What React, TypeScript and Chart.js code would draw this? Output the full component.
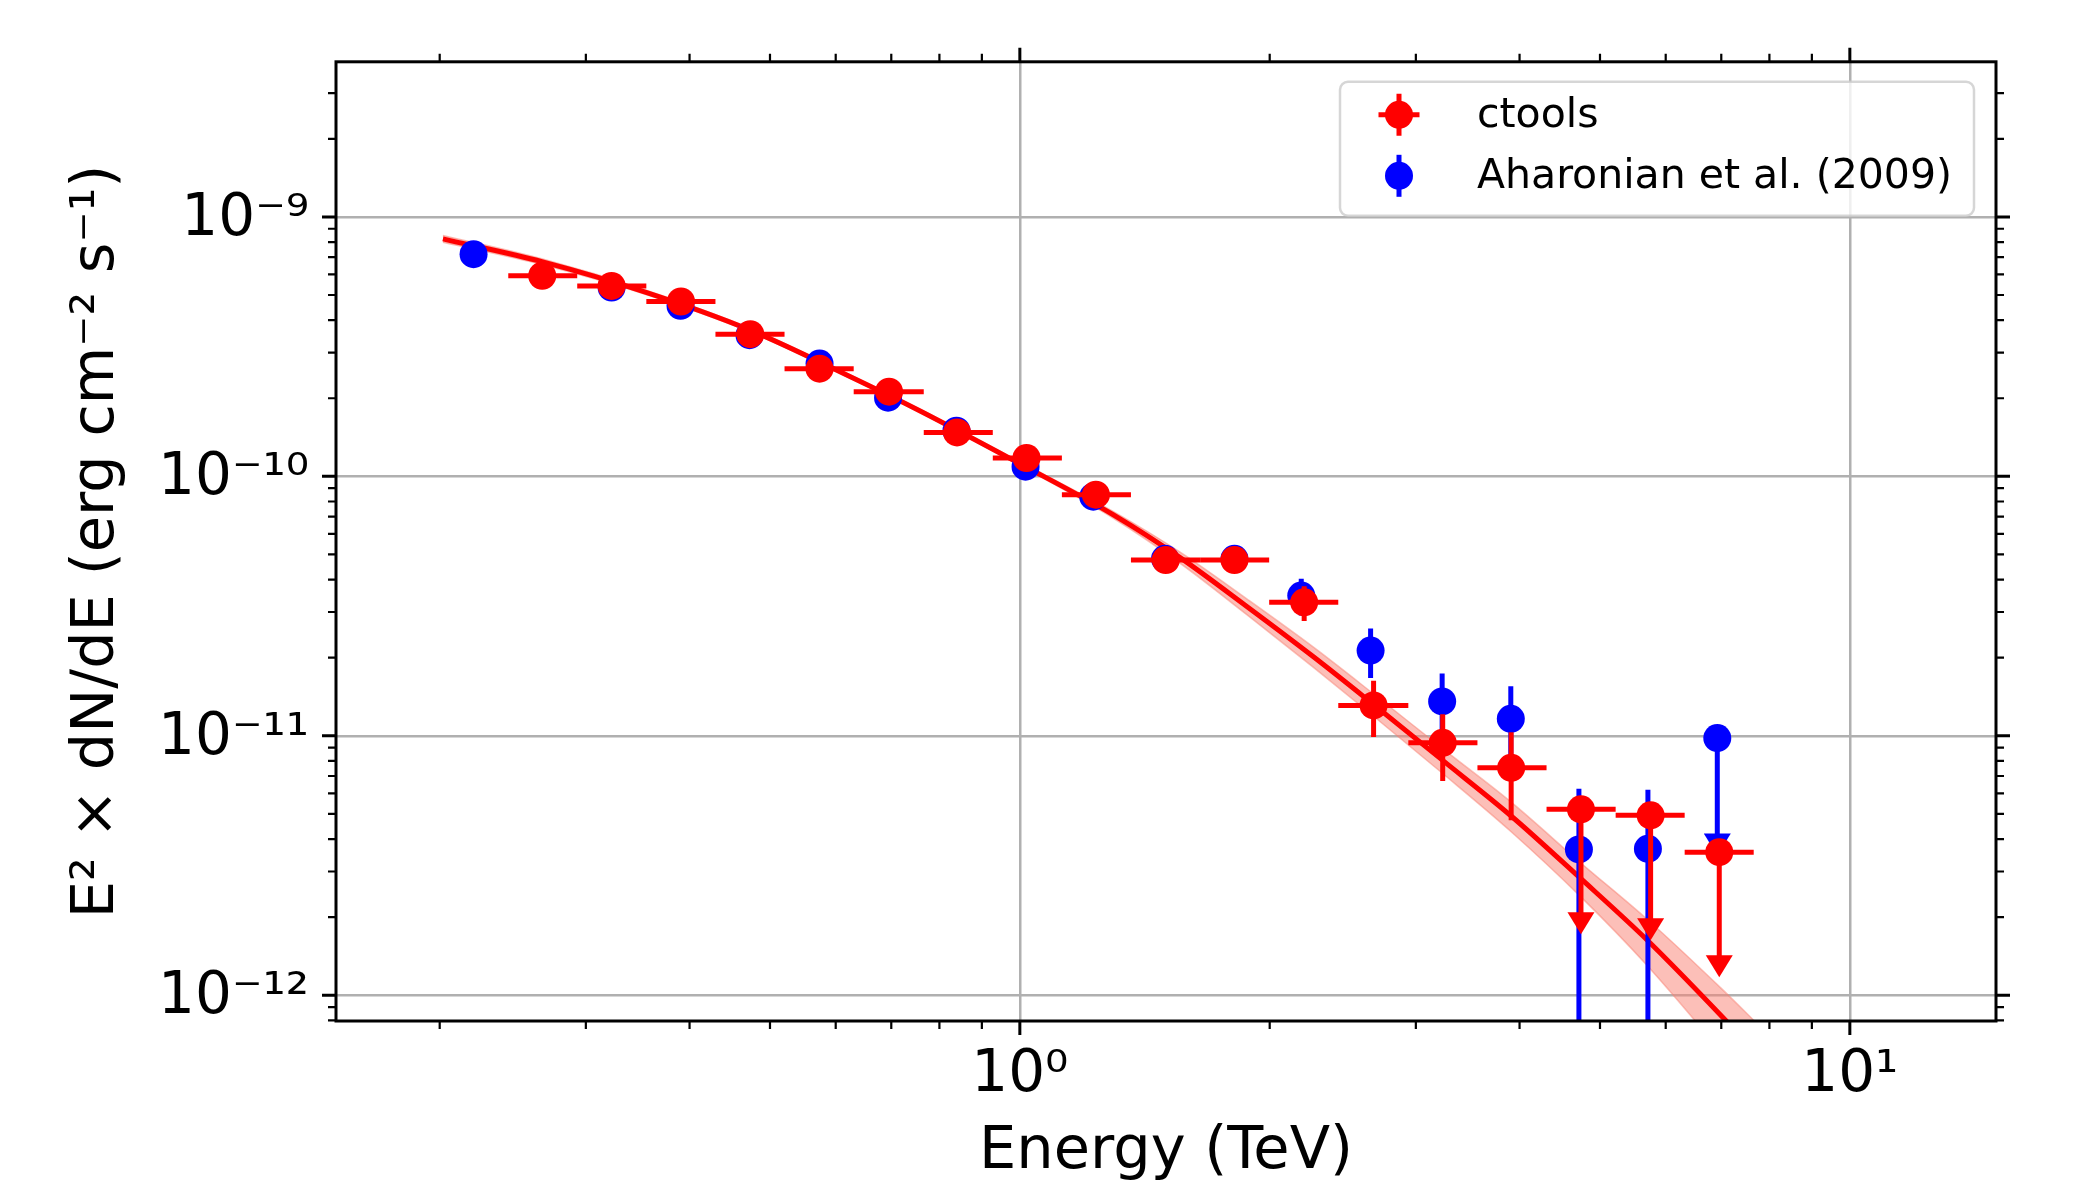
import React, { useEffect, useRef } from 'react';
import { Chart, registerables } from 'chart.js';

Chart.register(...registerables);

const FONT = '"DejaVu Sans", "Liberation Sans", sans-serif';

// ---------------- data ----------------
// ctools spectral points (TeV, erg cm^-2 s^-1)
const ctoolsEnergy = [0.2658, 0.3222, 0.3906, 0.4734, 0.5737, 0.6957, 0.8401, 1.0187, 1.2349, 1.499, 1.8137, 2.2007, 2.668, 3.232, 3.908, 4.743, 5.754, 6.961];
const ctoolsEnergyLow = [0.2419, 0.2929, 0.3548, 0.4298, 0.5206, 0.6307, 0.766, 0.9277, 1.1237, 1.361, 1.649, 1.997, 2.419, 2.938, 3.559, 4.311, 5.222, 6.324];
const ctoolsEnergyHigh = [0.2929, 0.3548, 0.4298, 0.5206, 0.6307, 0.766, 0.9277, 1.1237, 1.361, 1.649, 1.997, 2.419, 2.938, 3.559, 4.311, 5.222, 6.324, 7.659];
const ctoolsFlux = [5.93e-10, 5.42e-10, 4.72e-10, 3.53e-10, 2.6e-10, 2.12e-10, 1.477e-10, 1.177e-10, 8.5e-11, 4.76e-11, 4.76e-11, 3.27e-11, 1.31e-11, 9.4e-12, 7.53e-12, 5.21e-12, 4.94e-12, 3.56e-12];
const ctoolsFluxErr = [1.5e-11, 1.3e-11, 1.1e-11, 9e-12, 7e-12, 6e-12, 4.5e-12, 4e-12, 3e-12, 2e-12, 2.2e-12, 5e-12, 3.2e-12, 2.7e-12, 2.8e-12, 0, 0, 0];
const ctoolsIsUpperLimit = [false, false, false, false, false, false, false, false, false, false, false, false, false, false, false, true, true, true];

// Aharonian et al. (2009)
const hessEnergy = [0.2197, 0.3222, 0.3901, 0.4724, 0.5737, 0.6938, 0.8387, 1.016, 1.226, 1.496, 1.8137, 2.183, 2.646, 3.227, 3.904, 4.716, 5.711, 6.923];
const hessFlux = [7.18e-10, 5.34e-10, 4.54e-10, 3.5e-10, 2.72e-10, 2.01e-10, 1.5e-10, 1.09e-10, 8.35e-11, 4.81e-11, 4.81e-11, 3.47e-11, 2.13e-11, 1.357e-11, 1.163e-11, 3.65e-12, 3.67e-12, 9.8e-12];
const hessFluxErrLow = [2e-11, 1.4e-11, 1.1e-11, 8e-12, 6e-12, 5e-12, 4e-12, 3e-12, 3e-12, 2.5e-12, 2.5e-12, 5.6e-12, 4.6e-12, 3.8e-12, 3.9e-12, 3.65e-12, 3.67e-12, 0];
const hessFluxErrHigh = [2e-11, 1.4e-11, 1.1e-11, 8e-12, 6e-12, 5e-12, 4e-12, 3e-12, 3e-12, 2.5e-12, 2.5e-12, 5.6e-12, 4.6e-12, 3.8e-12, 3.9e-12, 2.6e-12, 2.53e-12, 0];
const hessIsUpperLimit = [false, false, false, false, false, false, false, false, false, false, false, false, false, false, false, false, false, true];

// ctools model fit and its uncertainty
const fitEnergy = [0.2018, 0.2661, 0.3545, 0.4724, 0.6286, 0.7573, 1.0, 1.295, 1.56, 1.877, 2.256, 2.668, 3.232, 3.908, 4.738, 5.702, 6.99, 7.81];
const fitFlux = [8.23e-10, 6.71e-10, 5.12e-10, 3.67e-10, 2.4e-10, 1.791e-10, 1.119e-10, 7.12e-11, 4.86e-11, 3.15e-11, 2.02e-11, 1.32e-11, 8.04e-12, 4.91e-12, 2.82e-12, 1.63e-12, 8.38e-13, 5.73e-13];
const fitFluxErr = [2.5e-11, 1.7e-11, 1.0e-11, 6.2e-12, 3.6e-12, 2.7e-12, 1.9e-12, 2.1e-12, 2.4e-12, 2.2e-12, 1.8e-12, 1.3e-12, 8.8e-13, 6.4e-13, 4.2e-13, 3.3e-13, 2.3e-13, 1.8e-13];

// axes
const xRange = [0.15, 15];
const yRange = [7.96e-13, 3.96e-9];
const xTickValues = [1, 10];
const yTickValues = [1e-12, 1e-11, 1e-10, 1e-9];
const xMinorTickValues = [0.2, 0.3, 0.4, 0.5, 0.6, 0.7, 0.8, 0.9, 2, 3, 4, 5, 6, 7, 8, 9];
const yMinorTickValues = [8e-13, 9e-13, 2e-12, 3e-12, 4e-12, 5e-12, 6e-12, 7e-12, 8e-12, 9e-12, 2e-11, 3e-11, 4e-11, 5e-11, 6e-11, 7e-11, 8e-11, 9e-11, 2e-10, 3e-10, 4e-10, 5e-10, 6e-10, 7e-10, 8e-10, 9e-10, 2e-9, 3e-9];

const legendLabels = ['ctools', 'Aharonian et al. (2009)'];
const xTitle = 'Energy (TeV)';
const yTitle = 'E\u00B2 \u00D7 dN/dE (erg cm\u207B\u00B2 s\u207B\u00B9)';

const RED = '#ff0000';
const BLUE = '#0000ff';

const SUP: Record<string, string> = { '-': '\u207B', '0': '\u2070', '1': '\u00B9', '2': '\u00B2', '3': '\u00B3', '4': '\u2074', '5': '\u2075', '6': '\u2076', '7': '\u2077', '8': '\u2078', '9': '\u2079' };
const powLabel = (v: number) => {
  const e = String(Math.round(Math.log10(v)));
  return '10' + e.split('').map((c) => SUP[c] ?? c).join('');
};

// ---------------- plugins ----------------
const errorBarPlugin = {
  id: 'errorBars',
  beforeDatasetDraw(chart: any, args: any) {
    const ds: any = chart.data.datasets[args.index];
    const eb = ds.errorBars;
    if (!eb) return;
    const { ctx, chartArea: a } = chart;
    const xs = chart.scales.x;
    const ys = chart.scales.y;
    ctx.save();
    ctx.beginPath();
    ctx.rect(a.left, a.top, a.right - a.left, a.bottom - a.top);
    ctx.clip();
    ctx.strokeStyle = eb.color;
    ctx.fillStyle = eb.color;
    ctx.lineWidth = 5;
    ctx.lineCap = 'butt';
    ds.data.forEach((pt: any, i: number) => {
      const px = xs.getPixelForValue(pt.x);
      const py = ys.getPixelForValue(pt.y);
      if (eb.xLow) {
        ctx.beginPath();
        ctx.moveTo(xs.getPixelForValue(eb.xLow[i]), py);
        ctx.lineTo(xs.getPixelForValue(eb.xHigh[i]), py);
        ctx.stroke();
      }
      if (eb.ul && eb.ul[i]) {
        const tip = ys.getPixelForValue(pt.y * eb.ulFactor);
        const headLen = 22;
        const headHalf = 13.5;
        ctx.beginPath();
        ctx.moveTo(px, py);
        ctx.lineTo(px, tip - headLen + 2);
        ctx.stroke();
        ctx.beginPath();
        ctx.moveTo(px - headHalf, tip - headLen);
        ctx.lineTo(px + headHalf, tip - headLen);
        ctx.lineTo(px, tip);
        ctx.closePath();
        ctx.fill();
      } else {
        const hi = eb.yHigh[i];
        const lo = eb.yLow[i];
        if (hi === lo && hi === pt.y) return;
        const pHi = ys.getPixelForValue(hi);
        const pLo = lo > 0 ? ys.getPixelForValue(lo) : a.bottom + 20;
        ctx.beginPath();
        ctx.moveTo(px, pHi);
        ctx.lineTo(px, pLo);
        ctx.stroke();
      }
    });
    ctx.restore();
  },
};

const axesPlugin = {
  id: 'mplAxes',
  afterDatasetsDraw(chart: any) {
    const { ctx, chartArea: a } = chart;
    const xs = chart.scales.x;
    const ys = chart.scales.y;
    ctx.save();
    ctx.strokeStyle = '#000';
    ctx.lineCap = 'butt';
    const drawTicks = (xv: number[], yv: number[], len: number, w: number) => {
      ctx.lineWidth = w;
      ctx.beginPath();
      xv.forEach((v) => {
        const p = xs.getPixelForValue(v);
        if (p < a.left - 1 || p > a.right + 1) return;
        ctx.moveTo(p, a.bottom);
        ctx.lineTo(p, a.bottom + len);
        ctx.moveTo(p, a.top);
        ctx.lineTo(p, a.top - len);
      });
      yv.forEach((v) => {
        const p = ys.getPixelForValue(v);
        if (p < a.top - 1 || p > a.bottom + 1) return;
        ctx.moveTo(a.left, p);
        ctx.lineTo(a.left - len, p);
        ctx.moveTo(a.right, p);
        ctx.lineTo(a.right + len, p);
      });
      ctx.stroke();
    };
    drawTicks(xMinorTickValues, yMinorTickValues, 8, 2.2);
    drawTicks(xTickValues, yTickValues, 14, 3);
    ctx.lineWidth = 3;
    ctx.strokeRect(a.left, a.top, a.right - a.left, a.bottom - a.top);
    ctx.restore();
  },
};

const legendPlugin = {
  id: 'mplLegend',
  afterDraw(chart: any) {
    const { ctx, chartArea: a } = chart;
    const boxR = a.right - 22;
    const boxL = boxR - 634;
    const boxT = a.top + 20;
    const boxH = 134;
    ctx.save();
    ctx.beginPath();
    ctx.roundRect(boxL, boxT, boxR - boxL, boxH, 8);
    ctx.fillStyle = 'rgba(255,255,255,0.8)';
    ctx.fill();
    ctx.lineWidth = 2.5;
    ctx.strokeStyle = 'rgba(204,204,204,0.8)';
    ctx.stroke();

    const mx = boxL + 59;
    const tx = boxL + 137;
    const rows = [boxT + 33, boxT + 94];
    const colors = [RED, BLUE];
    rows.forEach((ry, i) => {
      const c = colors[i];
      ctx.strokeStyle = c;
      ctx.fillStyle = c;
      ctx.lineWidth = 5;
      ctx.beginPath();
      ctx.moveTo(mx, ry - 21);
      ctx.lineTo(mx, ry + 21);
      if (i === 0) {
        ctx.moveTo(mx - 20.5, ry);
        ctx.lineTo(mx + 20.5, ry);
      }
      ctx.stroke();
      ctx.beginPath();
      ctx.arc(mx, ry, 14, 0, Math.PI * 2);
      ctx.fill();
      ctx.fillStyle = '#000';
      ctx.font = `41px ${FONT}`;
      ctx.textAlign = 'left';
      ctx.textBaseline = 'middle';
      ctx.fillText(legendLabels[i], tx, ry + 2);
    });
    ctx.restore();
  },
};

// ---------------- component ----------------
export default function App() {
  const ref = useRef<HTMLCanvasElement>(null);

  useEffect(() => {
    const canvas = ref.current;
    if (!canvas) return;

    const ctoolsPts = ctoolsEnergy.map((e, i) => ({ x: e, y: ctoolsFlux[i] }));
    const hessPts = hessEnergy.map((e, i) => ({ x: e, y: hessFlux[i] }));
    const fitPts = fitEnergy.map((e, i) => ({ x: e, y: fitFlux[i] }));
    const bandHigh = fitEnergy.map((e, i) => ({ x: e, y: fitFlux[i] + fitFluxErr[i] }));
    const bandLow = fitEnergy.map((e, i) => ({ x: e, y: fitFlux[i] - fitFluxErr[i] }));

    const tickFont = { family: FONT, size: 58 };
    const titleFont = { family: FONT, size: 59 };

    const chart = new Chart(canvas, {
      type: 'line',
      data: {
        datasets: [
          {
            label: 'band-high',
            data: bandHigh,
            borderColor: 'rgba(250,128,114,0.5)',
            borderWidth: 1.5,
            pointRadius: 0,
            fill: false,
            cubicInterpolationMode: 'monotone',
            order: 5,
            clip: 0,
          } as any,
          {
            label: 'band-low',
            data: bandLow,
            borderColor: 'rgba(250,128,114,0.5)',
            backgroundColor: 'rgba(250,128,114,0.5)',
            borderWidth: 1.5,
            pointRadius: 0,
            fill: 0,
            cubicInterpolationMode: 'monotone',
            order: 4,
            clip: 0,
          } as any,
          {
            label: 'fit',
            data: fitPts,
            borderColor: RED,
            borderWidth: 5,
            pointRadius: 0,
            fill: false,
            cubicInterpolationMode: 'monotone',
            order: 3,
            clip: 0,
          } as any,
          {
            label: legendLabels[1],
            data: hessPts,
            showLine: false,
            pointRadius: 14,
            pointHoverRadius: 14,
            pointBorderWidth: 0,
            pointBackgroundColor: BLUE,
            backgroundColor: BLUE,
            borderColor: BLUE,
            order: 2,
            clip: 0,
            errorBars: {
              color: BLUE,
              yLow: hessFlux.map((f, i) => f - hessFluxErrLow[i]),
              yHigh: hessFlux.map((f, i) => f + hessFluxErrHigh[i]),
              ul: hessIsUpperLimit,
              ulFactor: 0.353,
            },
          } as any,
          {
            label: legendLabels[0],
            data: ctoolsPts,
            showLine: false,
            pointRadius: 14,
            pointHoverRadius: 14,
            pointBorderWidth: 0,
            pointBackgroundColor: RED,
            backgroundColor: RED,
            borderColor: RED,
            order: 1,
            clip: 0,
            errorBars: {
              color: RED,
              xLow: ctoolsEnergyLow,
              xHigh: ctoolsEnergyHigh,
              yLow: ctoolsFlux.map((f, i) => f - ctoolsFluxErr[i]),
              yHigh: ctoolsFlux.map((f, i) => f + ctoolsFluxErr[i]),
              ul: ctoolsIsUpperLimit,
              ulFactor: 0.33,
            },
          } as any,
        ],
      },
      options: {
        responsive: false,
        maintainAspectRatio: false,
        devicePixelRatio: 1,
        animation: false,
        events: [],
        layout: { padding: { top: 61, right: 104, bottom: 0, left: 0 } },
        plugins: {
          legend: { display: false },
          tooltip: { enabled: false },
        },
        scales: {
          x: {
            type: 'logarithmic',
            position: 'bottom',
            min: xRange[0],
            max: xRange[1],
            afterBuildTicks: (s: any) => {
              s.ticks = xTickValues.map((v) => ({ value: v }));
            },
            afterFit: (s: any) => {
              s.height = 179;
            },
            grid: { color: '#b0b0b0', lineWidth: 2.5, drawTicks: false },
            border: { display: false },
            ticks: {
              font: tickFont,
              color: '#000',
              padding: 20,
              autoSkip: false,
              maxRotation: 0,
              callback: (v: any) => powLabel(Number(v)),
            },
            title: {
              display: true,
              text: xTitle,
              color: '#000',
              font: titleFont,
              padding: { top: 12, bottom: 12 },
            },
          },
          y: {
            type: 'logarithmic',
            position: 'left',
            min: yRange[0],
            max: yRange[1],
            afterBuildTicks: (s: any) => {
              s.ticks = yTickValues.map((v) => ({ value: v }));
            },
            afterFit: (s: any) => {
              s.width = 336;
            },
            grid: { color: '#b0b0b0', lineWidth: 2.5, drawTicks: false },
            border: { display: false },
            ticks: {
              font: tickFont,
              color: '#000',
              padding: 27,
              labelOffset: 3,
              autoSkip: false,
              callback: (v: any) => powLabel(Number(v)),
            },
            title: {
              display: true,
              text: yTitle,
              color: '#000',
              font: titleFont,
              padding: { top: 62, bottom: 0 },
            },
          },
        },
      } as any,
      plugins: [errorBarPlugin, axesPlugin, legendPlugin],
    });

    return () => chart.destroy();
  }, []);

  return (
    <div style={{ position: 'fixed', left: 0, top: 0, width: 2100, height: 1200, background: '#ffffff' }}>
      <canvas ref={ref} width={2100} height={1200} style={{ width: '2100px', height: '1200px', display: 'block' }} />
    </div>
  );
}
